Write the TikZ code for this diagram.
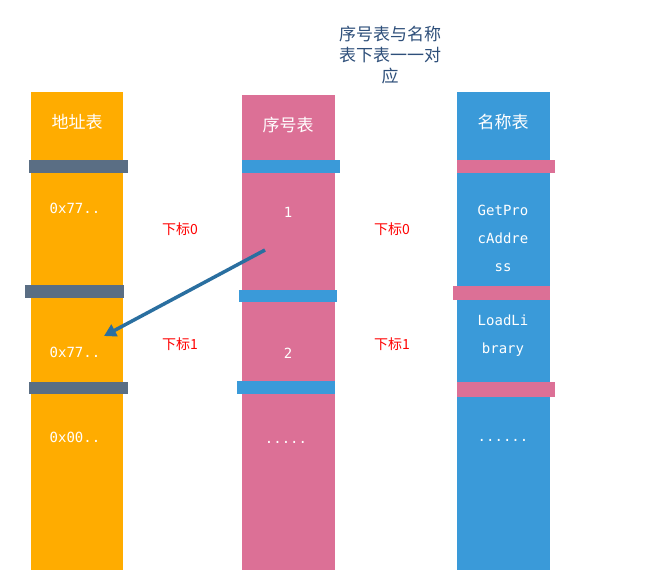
\documentclass[tikz,border=0pt]{standalone}
\usepackage{fontspec}
\setmainfont{Noto Sans CJK SC}
\newfontfamily\monof{DejaVu Sans Mono}
\usetikzlibrary{arrows.meta}
\definecolor{cor}{HTML}{FFAC00}
\definecolor{cpk}{HTML}{DC7096}
\definecolor{cbl}{HTML}{3A9AD9}
\definecolor{cgr}{HTML}{5A6E84}
\definecolor{ctt}{HTML}{2E4F7A}
\definecolor{carr}{HTML}{2A6FA0}
\tikzset{hd/.style={text=white,font=\fontsize{17}{20}\selectfont},
 cell/.style={text=white,font=\monof\fontsize{14}{28}\selectfont,align=center},
 idx/.style={text=red,font=\fontsize{14}{17}\selectfont}}
\begin{document}
\begin{tikzpicture}[x=1pt,y=-1pt]
\useasboundingbox[fill=white] (0,0) rectangle (650,570);
% columns
\fill[cor] (31,92) rectangle (123,570);
\fill[cpk] (242,95) rectangle (335,570);
\fill[cbl] (457,92) rectangle (550,570);
% bars
\fill[cgr] (29,160) rectangle (128,173);
\fill[cgr] (25,285) rectangle (124,298);
\fill[cgr] (29,382) rectangle (128,394);
\fill[cbl] (242,160) rectangle (340,173);
\fill[cbl] (239,290) rectangle (337,302);
\fill[cbl] (237,381) rectangle (335,394);
\fill[cpk] (457,160) rectangle (555,173);
\fill[cpk] (453,286) rectangle (550,300);
\fill[cpk] (457,382) rectangle (555,397);
% headers
\node[hd] (h1) at (77,122) {地址表};
\node[hd] (h2) at (288,125) {序号表};
\node[hd] (h3) at (503,122) {名称表};
\node[text=ctt,font=\fontsize{17}{21}\selectfont,align=center] (t) at (390,55) {序号表与名称\\表下表一一对\\应};
% cells
\node[cell] (a1) at (75,208) {0x77..};
\node[cell] (a2) at (75,352) {0x77..};
\node[cell] (a3) at (75,437) {0x00..};
\node[cell] (s1) at (288,212) {1};
\node[cell] (s2) at (288,353) {2};
\node[cell] (s3) at (286,442) {.....};
\node[cell] (n1) at (503,238) {GetPro\\cAddre\\ss};
\node[cell] (n2) at (503,336) {LoadLi\\brary};
\node[cell] (n3) at (503,440) {......};
% index labels
\node[idx] (i1) at (180,229) {下标0};
\node[idx] (i2) at (392,229) {下标0};
\node[idx] (i3) at (180,344) {下标1};
\node[idx] (i4) at (392,344) {下标1};
% arrow
\coordinate (as) at (265,250);
\coordinate (ae) at (104,336);
\draw[carr,line width=3.5pt,-{Triangle[length=12pt,width=13pt]}] (as) -- (ae);
\end{tikzpicture}
\end{document}
